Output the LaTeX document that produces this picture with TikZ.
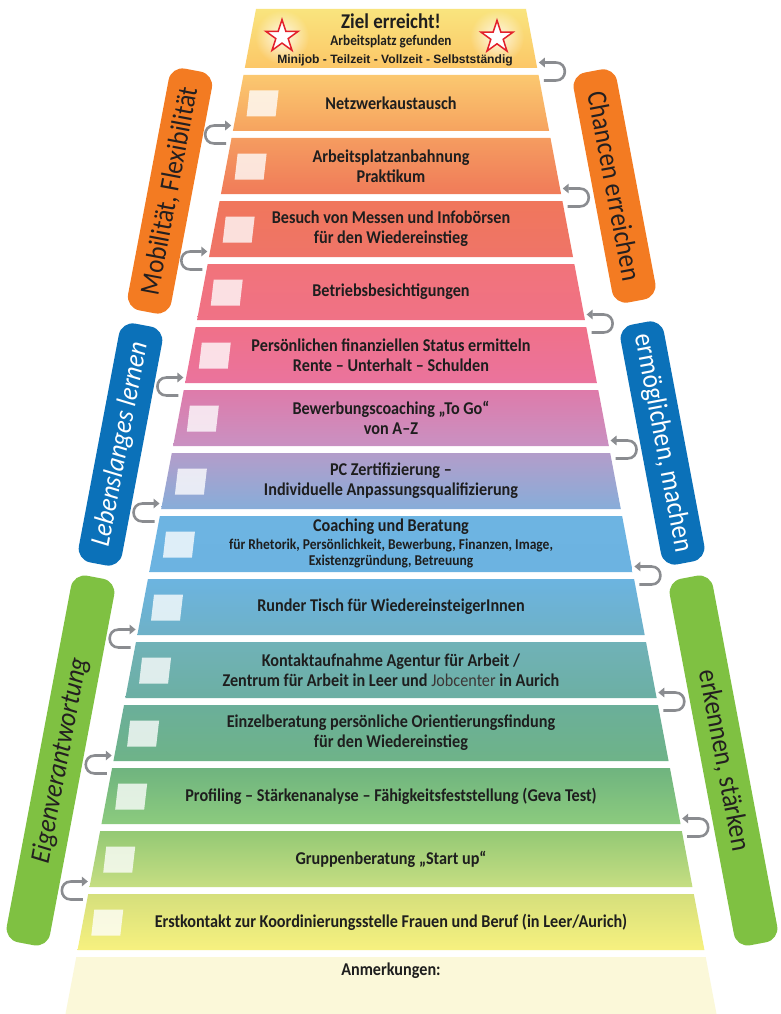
\documentclass[tikz,border=0pt]{standalone}
\usepackage{fontspec}
\setmainfont{Carlito}[FakeStretch=0.9]
\newfontfamily\arialfont{Liberation Sans}
\usetikzlibrary{arrows.meta,shapes.geometric,fadings}
\tikzfading[name=glowfade, inner color=transparent!0, outer color=transparent!100]
\definecolor{txt}{HTML}{1E1E1E}
\definecolor{jobc}{HTML}{3C3535}
\definecolor{zielT}{HTML}{F9E47E}
\definecolor{zielB}{HTML}{FCC767}
\definecolor{c1t}{HTML}{FBC870}\definecolor{c1b}{HTML}{F6A35F}
\definecolor{c2t}{HTML}{F59C60}\definecolor{c2b}{HTML}{F07B59}
\definecolor{c3t}{HTML}{F0775C}\definecolor{c3b}{HTML}{EF7468}
\definecolor{c4t}{HTML}{F1737A}\definecolor{c4b}{HTML}{F07286}
\definecolor{c5t}{HTML}{F07189}\definecolor{c5b}{HTML}{EA739D}
\definecolor{c6t}{HTML}{DE7BAA}\definecolor{c6b}{HTML}{C991C2}
\definecolor{c7t}{HTML}{B39DCA}\definecolor{c7b}{HTML}{87ADD9}
\definecolor{c8t}{HTML}{6DB4E2}\definecolor{c8b}{HTML}{6CB3E1}
\definecolor{c9t}{HTML}{6CB4E0}\definecolor{c9b}{HTML}{6EB1C7}
\definecolor{c10t}{HTML}{70B2B8}\definecolor{c10b}{HTML}{6CAFA3}
\definecolor{c11t}{HTML}{6BAF9A}\definecolor{c11b}{HTML}{6EB388}
\definecolor{c12t}{HTML}{6FB47F}\definecolor{c12b}{HTML}{8CCB7E}
\definecolor{c13t}{HTML}{94C975}\definecolor{c13b}{HTML}{C6DE82}
\definecolor{c14t}{HTML}{D5DF7C}\definecolor{c14b}{HTML}{F7F17F}
\definecolor{anm}{HTML}{FBF8D9}
\definecolor{porange}{HTML}{F37B22}
\definecolor{pblue}{HTML}{0B71B9}
\definecolor{pgreen}{HTML}{7FC142}
\definecolor{pdark}{HTML}{231F20}
\definecolor{arrowgray}{HTML}{8A8C90}
\definecolor{starred}{HTML}{E3202B}
\newcommand\stairstep[3]{%
 \pgfmathsetmacro\stTop{75+63*(#1-1)}%
 \pgfmathsetmacro\stBot{\stTop+56}%
 \pgfmathsetmacro\stWt{135+0.1896*(\stTop-9)}%
 \pgfmathsetmacro\stWb{135+0.1896*(\stBot-9)}%
 \pgfmathsetmacro\stCy{\stTop+28.5}%
 \pgfmathsetmacro\stCx{391-(135+0.1896*(\stCy-9))+24.5}%
 \shade[top color=#2,bottom color=#3] (391-\stWt,\stTop) -- (391+\stWt,\stTop) -- (391+\stWb,\stBot) -- (391-\stWb,\stBot) -- cycle;
 \fill[white,fill opacity=0.78] (\stCx-13,\stCy-13) -- (\stCx+16,\stCy-13) -- (\stCx+13,\stCy+13) -- (\stCx-16,\stCy+13) -- cycle;
}
\begin{document}
\begin{tikzpicture}[x=1pt,y=-1pt,
  st/.style={font=\bfseries\fontsize{18}{20}\selectfont, align=center, text=txt, inner sep=0pt},
  stsmall/.style={font=\bfseries\fontsize{15}{16}\selectfont, align=center, text=txt, inner sep=0pt},
  pill/.style={rectangle, rounded corners=14pt, minimum height=44pt, inner sep=0pt, font=\fontsize{28}{30}\selectfont},
  uarrow/.style={draw=arrowgray, line width=2.6pt, -{Triangle[length=6pt,width=9.5pt]}},
  starshape/.style={star, star points=5, star point ratio=2.618, minimum size=34pt, inner sep=0pt, draw=starred, fill=white, line width=1.5pt}]
\fill[white] (0,0) rectangle (781,1014);
\useasboundingbox (0,0) rectangle (781,1014);
% side pills
\node[pill, fill=porange, text=pdark, rotate=79.3, minimum width=246pt] (pMob) at (170,191) {Mobilität, Flexibilität};
\node[pill, fill=porange, text=pdark, rotate=-79.3, minimum width=234pt] (pCha) at (614.5,186) {Chancen erreichen};
\node[pill, fill=pblue, text=white, rotate=79.3, minimum width=243pt, font=\itshape\fontsize{28}{30}\selectfont] (pLeb) at (120.5,444.5) {Lebenslanges lernen};
\node[pill, fill=pblue, text=white, rotate=-79.3, minimum width=244pt] (pErm) at (662.5,443) {ermöglichen, machen};
\node[pill, fill=pgreen, text=pdark, rotate=79.3, minimum width=373pt, font=\itshape\fontsize{28}{30}\selectfont] (pEig) at (60.5,760.5) {Eigenverantwortung};
\node[pill, fill=pgreen, text=pdark, rotate=-79.3, minimum width=373pt] (pErk) at (723.5,760.5) {erkennen, stärken};
% goal step
\shade[top color=zielT, bottom color=zielB] (256,9) -- (526,9) -- (537.2,68) -- (244.8,68) -- cycle;
\fill[white, opacity=0.85, path fading=glowfade] (282,37) circle (27);
\fill[white, opacity=0.85, path fading=glowfade] (497,37) circle (27);
\node[starshape] (starL) at (282,36.6) {};
\node[starshape] (starR) at (497,37.3) {};
\node[font=\bfseries\fontsize{21}{24}\selectfont, text=txt, inner sep=0pt] (ziel) at (391,21) {Ziel erreicht!};
\node[font=\bfseries\fontsize{14.7}{17}\selectfont, text=txt, inner sep=0pt] (apg) at (391,42) {Arbeitsplatz gefunden};
\node[font=\arialfont\bfseries\fontsize{12.1}{14}\selectfont, text=txt, inner sep=0pt] (mini) at (395,60) {Minijob - Teilzeit - Vollzeit - Selbstständig};
% steps
\stairstep{1}{c1t}{c1b}
\stairstep{2}{c2t}{c2b}
\stairstep{3}{c3t}{c3b}
\stairstep{4}{c4t}{c4b}
\stairstep{5}{c5t}{c5b}
\stairstep{6}{c6t}{c6b}
\stairstep{7}{c7t}{c7b}
\stairstep{8}{c8t}{c8b}
\stairstep{9}{c9t}{c9b}
\stairstep{10}{c10t}{c10b}
\stairstep{11}{c11t}{c11b}
\stairstep{12}{c12t}{c12b}
\stairstep{13}{c13t}{c13b}
\stairstep{14}{c14t}{c14b}
\fill[anm] (76.3,957) -- (705.7,957) -- (716.5,1014) -- (65.5,1014) -- cycle;
% step texts
\node[st] (s1) at (391,103) {Netzwerkaustausch};
\node[st] (s2) at (391,166) {Arbeitsplatzanbahnung\\Praktikum};
\node[st] (s3) at (391,229) {Besuch von Messen und Infobörsen\\für den Wiedereinstieg};
\node[st] (s4) at (391,292) {Betriebsbesichtigungen};
\node[st] (s5) at (391,355) {Persönlichen finanziellen Status ermitteln\\Rente – Unterhalt – Schulden};
\node[st] (s6) at (391,418) {Bewerbungscoaching „To Go“\\von A–Z};
\node[st] (s7) at (391,481) {PC Zertifizierung –\\Individuelle Anpassungsqualifizierung};
\node[st] (s8) at (391,527) {Coaching und Beratung};
\node[stsmall] (s8a) at (391,546) {für Rhetorik, Persönlichkeit, Bewerbung, Finanzen, Image,};
\node[stsmall] (s8b) at (391,562) {Existenzgründung, Betreuung};
\node[st] (s9) at (391,607) {Runder Tisch für WiedereinsteigerInnen};
\node[st] (s10) at (391,670) {Kontaktaufnahme Agentur für Arbeit /\\Zentrum für Arbeit in Leer und {\mdseries\color{jobc}Jobcenter} in Aurich};
\node[st] (s11) at (391,733) {Einzelberatung persönliche Orientierungsfindung\\für den Wiedereinstieg};
\node[st] (s12) at (391,796) {Profiling – Stärkenanalyse – Fähigkeitsfeststellung (Geva Test)};
\node[st] (s13) at (391,859) {Gruppenberatung „Start up“};
\node[st] (s14) at (391,922) {Erstkontakt zur Koordinierungsstelle Frauen und Beruf (in Leer/Aurich)};
\node[st] (s15) at (391,971) {Anmerkungen:};
% U-turn arrows, left side
\foreach \i in {1,3,...,13}{
  \pgfmathsetmacro\jy{71.5+63*\i}
  \pgfmathsetmacro\ex{391-(135+0.1896*(\jy-9))}
  \draw[uarrow] (\ex-6,\jy+9) -- (\ex-18,\jy+9) .. controls (\ex-30,\jy+9) and (\ex-30,\jy-9) .. (\ex-18,\jy-9) -- (\ex-1,\jy-9);
}
% U-turn arrows, right side
\foreach \i in {0,2,...,12}{
  \pgfmathsetmacro\jy{71.5+63*\i}
  \pgfmathsetmacro\ex{391+(135+0.1896*(\jy-9))}
  \draw[uarrow] (\ex+6,\jy+9) -- (\ex+18,\jy+9) .. controls (\ex+30,\jy+9) and (\ex+30,\jy-9) .. (\ex+18,\jy-9) -- (\ex+1,\jy-9);
}
\end{tikzpicture}
\end{document}
